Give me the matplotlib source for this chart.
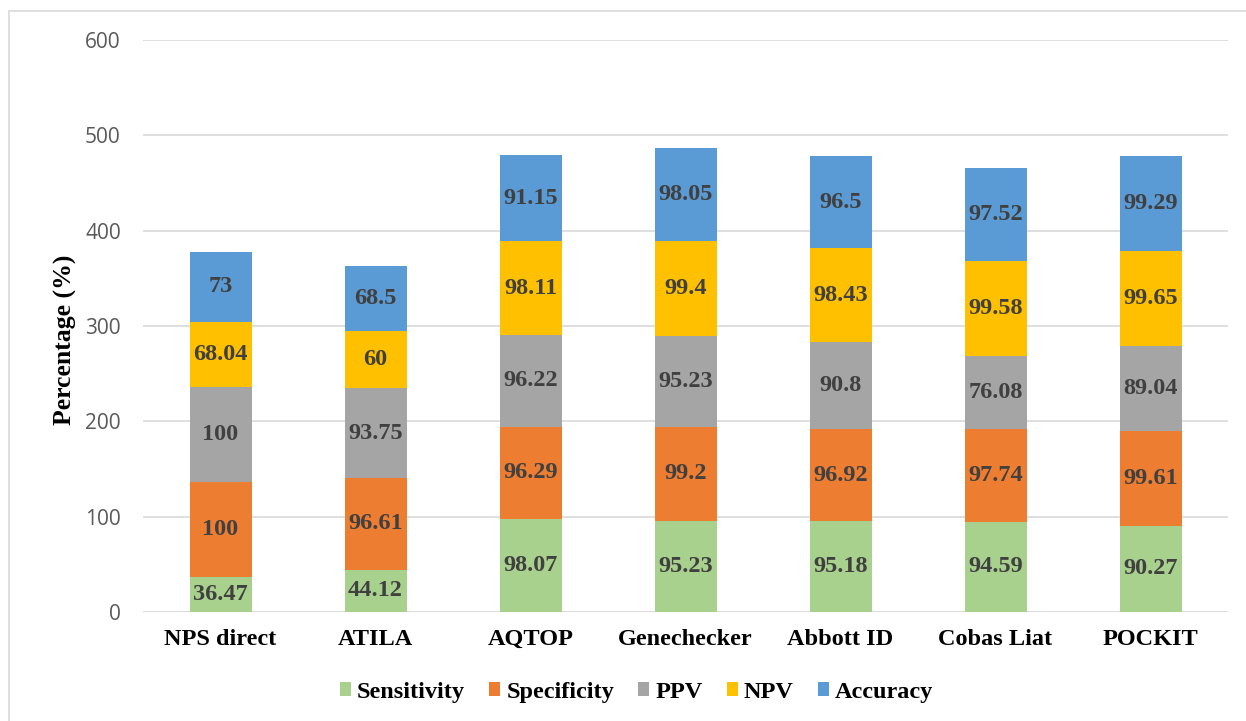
import matplotlib
matplotlib.use("Agg")
import matplotlib.pyplot as plt
import matplotlib.patches as patches
import numpy as np

# data
devices = ["NPS direct", "ATILA", "AQTOP", "Genechecker", "Abbott ID", "Cobas Liat", "POCKIT"]
sensitivity = [36.47, 44.12, 98.07, 95.23, 95.18, 94.59, 90.27]
specificity = [100, 96.61, 96.29, 99.2, 96.92, 97.74, 99.61]
ppv = [100, 93.75, 96.22, 95.23, 90.8, 76.08, 89.04]
npv = [68.04, 60, 98.11, 99.4, 98.43, 99.58, 99.65]
accuracy = [73, 68.5, 91.15, 98.05, 96.5, 97.52, 99.29]

series_names = ["Sensitivity", "Specificity", "PPV", "NPV", "Accuracy"]
series_values = [sensitivity, specificity, ppv, npv, accuracy]
colors = ["#A9D18E", "#ED7D31", "#A5A5A5", "#FFC000", "#5B9BD5"]

serif = "Liberation Serif"

fig = plt.figure(figsize=(12.46, 7.21), dpi=100)
ax = fig.add_axes([143 / 1246, 1 - 612 / 721, (1228 - 143) / 1246, 572 / 721])

# outer chart border (light gray)
fig.patches.append(patches.Rectangle((9 / 1246, -0.1), 1.2, 1 - 11 / 721 + 0.1,
                                     transform=fig.transFigure, fill=False,
                                     edgecolor="#d9d9d9", linewidth=1.2))

x = np.arange(len(devices))
bottom = np.zeros(len(devices))
for name, vals, col in zip(series_names, series_values, colors):
    vals = np.array(vals, dtype=float)
    ax.bar(x, vals, 0.4, bottom=bottom, color=col, label=name, zorder=3)
    for xi, b, v in zip(x, bottom, vals):
        ax.text(xi, b + v / 2, f"{v:g}", ha="center", va="center",
                fontsize=17.5, fontweight="bold", family=serif, color="#404040", zorder=4)
    bottom += vals

ax.set_ylim(0, 600)
ax.set_xlim(-0.5, len(devices) - 0.5)
ax.set_yticks(np.arange(0, 601, 100))
ax.grid(axis="y", color="#d9d9d9", linewidth=1.2, zorder=0)
for s in ["top", "right", "left", "bottom"]:
    ax.spines[s].set_visible(False)
ax.axhline(0, color="#d9d9d9", linewidth=1.2, zorder=2)
ax.tick_params(axis="both", length=0)
ax.tick_params(axis="y", pad=16, labelsize=15, labelcolor="#595959")
ax.set_xticks(x)
ax.set_xticklabels(devices, fontsize=17.5, fontweight="bold", family=serif)
ax.tick_params(axis="x", pad=12)
for lbl in ax.get_yticklabels():
    lbl.set_family("Open Sans")

ax.set_ylabel("Percentage (%)", fontsize=18.5, fontweight="bold", family=serif)
ax.yaxis.set_label_coords(-0.061, 0.475)

fig.legend(loc="center", bbox_to_anchor=(0.511, 0.040), ncol=5, frameon=False,
           prop={"family": serif, "weight": "bold", "size": 17.5},
           handlelength=0.45, handleheight=0.45, handletextpad=0.25, columnspacing=1.0)

plt.savefig("out.png", dpi=100)
plt.close()
